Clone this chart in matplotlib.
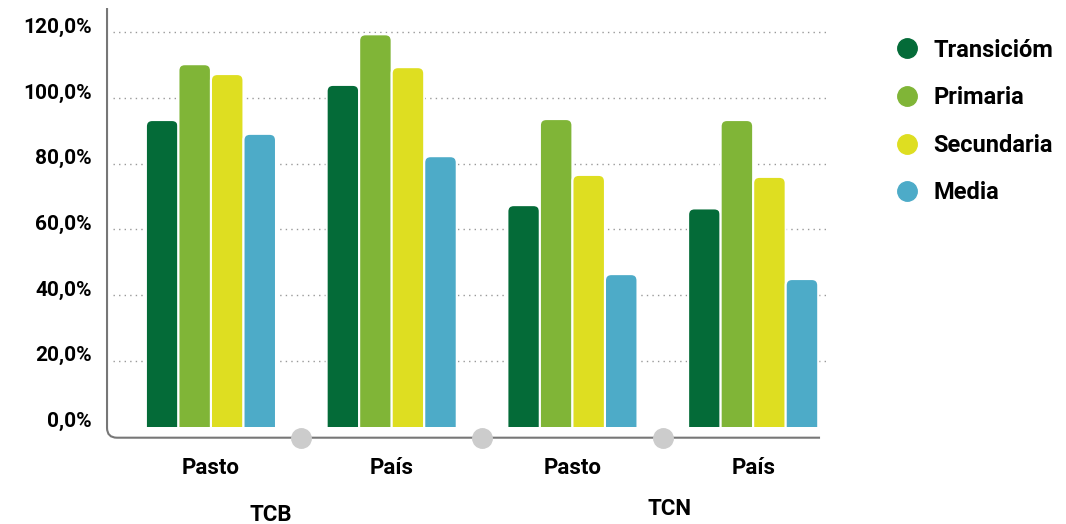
import matplotlib.pyplot as plt
import matplotlib.transforms as mtransforms
from matplotlib.patches import FancyBboxPatch, Rectangle
from matplotlib.path import Path
from matplotlib.patches import PathPatch
from matplotlib.lines import Line2D

# Data
groups = ['Pasto', 'País', 'Pasto', 'País']
group_titles = ['TCB', 'TCN']
levels = ['Transicióm', 'Primaria', 'Secundaria', 'Media']
transicion = [93.3, 104.0, 67.4, 66.4]
primaria = [110.3, 119.4, 93.6, 93.3]
secundaria = [107.3, 109.4, 76.6, 76.0]
media = [89.1, 82.3, 46.4, 44.9]
yticks = [0, 20, 40, 60, 80, 100, 120]
ytick_labels = ['0,0%', '20,0%', '40,0%', '60,0%', '80,0%', '100,0%', '120,0%']

colors = ['#046B38', '#80B537', '#DEDE21', '#4DABC8']
series = [transicion, primaria, secundaria, media]

plt.rcParams['font.family'] = ['Roboto', 'DejaVu Sans']
plt.rcParams['font.weight'] = 'bold'

fig = plt.figure(figsize=(10.66, 5.24), dpi=100)
ax = fig.add_axes([0.1004, 0.1647, 0.6782, 0.82])
ax.set_xlim(-0.575, 3.425)
ax.set_ylim(-3.4, 127.4)

bar_w = 0.18
clip = Rectangle((-1, 0), 10, 300, transform=ax.transData)
for i, (vals, col) in enumerate(zip(series, colors)):
    for g, v in enumerate(vals):
        x = g - 2 * bar_w + i * bar_w
        p = FancyBboxPatch((x, -10), bar_w, v + 10,
                           boxstyle='round,pad=0,rounding_size=0.035',
                           mutation_aspect=55, facecolor=col,
                           edgecolor='white', linewidth=1.5, zorder=3)
        ax.add_patch(p)
        p.set_clip_path(clip)

# dotted gridlines
ax.hlines(yticks[1:], -0.54, 3.425, colors='#999999', linestyles=(0, (1, 3)),
          linewidth=1, zorder=1)

for s in ax.spines.values():
    s.set_visible(False)

# axis line with rounded corner
x0, x1 = -0.575, 3.37
yb, ytop = -3.4, 127.4
rx, ry = 0.055, 3.0
verts = [(x0, ytop), (x0, yb + ry), (x0, yb), (x0 + rx, yb), (x1, yb)]
codes = [Path.MOVETO, Path.LINETO, Path.CURVE3, Path.CURVE3, Path.LINETO]
ax.add_patch(PathPatch(Path(verts, codes), fill=False, edgecolor='#777777',
                       linewidth=1.5, clip_on=False, zorder=4))

# grey separators on the axis
ax.plot([0.5, 1.5, 2.5], [yb] * 3, 'o', color='#CCCCCC', markersize=14,
        clip_on=False, zorder=5)

ax.set_yticks(yticks)
ax.set_yticklabels(ytick_labels, fontsize=15, fontweight='bold')
ax.tick_params(axis='y', length=0, pad=11)
offset = mtransforms.ScaledTranslation(0, 5 / 72, fig.dpi_scale_trans)
for lab in ax.get_yticklabels():
    lab.set_transform(lab.get_transform() + offset)

ax.set_xticks(range(len(groups)))
ax.set_xticklabels(groups, fontsize=16, fontweight='bold')
ax.tick_params(axis='x', length=0, pad=14)

ax.text(0.33, -0.18, group_titles[0], transform=ax.get_xaxis_transform(),
        ha='center', va='center', fontsize=16, fontweight='bold')
ax.text(2.535, -0.165, group_titles[1], transform=ax.get_xaxis_transform(),
        ha='center', va='center', fontsize=16, fontweight='bold')

handles = [Line2D([], [], marker='o', linestyle='', color=c, markersize=14)
           for c in colors]
fig.legend(handles, levels, loc='upper left', bbox_to_anchor=(0.8199, 0.9666),
           frameon=False, labelspacing=1.04, handlelength=1.0,
           handletextpad=0.6, prop={'weight': 'bold', 'size': 17})

fig.savefig('out.png', dpi=100)
